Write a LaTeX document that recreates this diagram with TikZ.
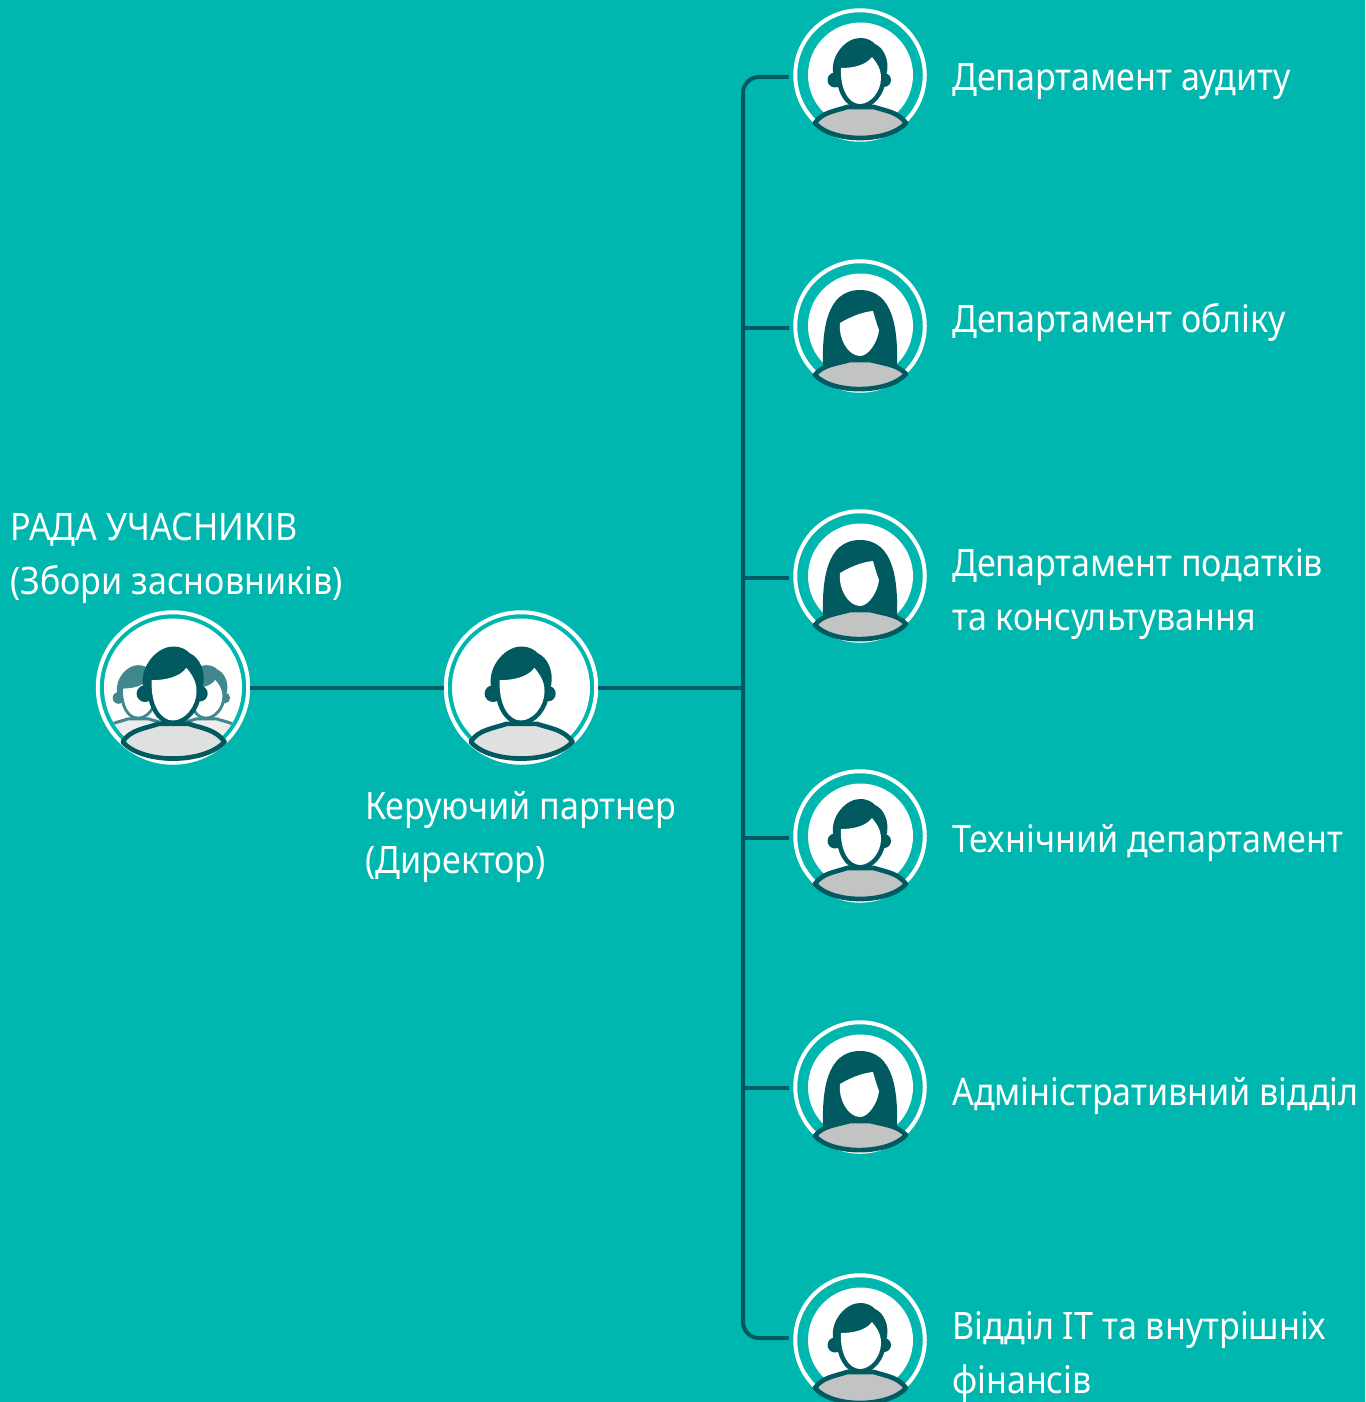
\documentclass[tikz,border=0pt]{standalone}
\usepackage{fontspec}
\setmainfont[FakeStretch=0.9]{Noto Sans}
\definecolor{bgteal}{HTML}{00B7AF}
\definecolor{darkteal}{HTML}{005A60}
\definecolor{midteal}{HTML}{41888E}
\definecolor{bodygrey}{HTML}{C2C4C4}
\definecolor{bodylight}{HTML}{DFE0E0}
\definecolor{bodypale}{HTML}{ECEDED}
\newcommand{\bodyfill}{bodygrey}
\newcommand{\headline}{darkteal}
\newcommand{\outlinew}{3.5pt}
\tikzset{
    link/.style={draw=darkteal,line width=3pt},
    ringbig/.style={circle,draw=white,line width=3pt,minimum size=150.5*0.75pt,inner sep=0pt,outer sep=1pt},
    ringsmall/.style={circle,draw=white,line width=3pt,minimum size=129.5*0.75pt,inner sep=0pt,outer sep=5pt},
    label/.style={anchor=west,align=left,text=white,font=\fontsize{28.4pt}{40.5pt}\selectfont,inner sep=0pt},
    man/.pic={
        % ears and hair
        \fill[\headline] (-25,5) circle (7.5) (24,5) circle (7);
        \fill[\headline] (-24,4) -- (-27,-3) .. controls (-29,-20) and (-14,-37) .. (0,-37)
            .. controls (8,-37) and (12,-34) .. (15,-31)
            .. controls (24,-27) and (29,-15) .. (27,-3) -- (24,4) -- cycle;
        % body
        \draw[fill=\bodyfill,draw=\headline,line width=\outlinew,line join=round]
            (-45,48) .. controls (-38,37) and (-24,36) .. (-13,32)
            -- (14,32) .. controls (26,36) and (38,37) .. (46,48)
            .. controls (28,68) and (-28,68) .. (-45,48) -- cycle;
        % face
        \path[fill=white,preaction={draw=\headline,line width=2*\outlinew}]
            (-19,-7) .. controls (-6,-7) and (6,-10) .. (12,-18)
            .. controls (16,-13) and (21,-7) .. (21,3)
            .. controls (21,17) and (10,29) .. (0,29)
            .. controls (-11,29) and (-20,15) .. (-19,-7) -- cycle;
    },
    woman/.pic={
        % long hair
        \fill[\headline] (-37,40) .. controls (-38,5) and (-34,-36) .. (0,-36)
            .. controls (34,-36) and (38,5) .. (37,40) -- cycle;
        % body
        \draw[fill=\bodyfill,draw=\headline,line width=\outlinew,line join=round]
            (-45,49) .. controls (-38,39) and (-24,38) .. (-10,34)
            -- (10,34) .. controls (26,38) and (38,39) .. (46,48)
            .. controls (28,68) and (-28,68) .. (-45,49) -- cycle;
        % face
        \fill[white] (-20,-3) .. controls (-10,-9) and (2,-14) .. (13,-15)
            .. controls (15,-8) and (17,-1) .. (19,4)
            .. controls (18,15) and (9,30) .. (0,30)
            .. controls (-12,30) and (-22,12) .. (-20,-3) -- cycle;
    },
}
\begin{document}
\begin{tikzpicture}[x=0.75pt,y=-0.75pt]
\useasboundingbox (0,0) rectangle (1365,1402);
\clip (0,0) rectangle (1365,1402);
\fill[bgteal] (0,0) rectangle (1365,1402);
% board and director
\node[ringbig] (board) at (173,687.5) {};
\node[ringbig] (partner) at (521,687.5) {};
\coordinate (hub) at (743,687.5);
% departments
\node[ringsmall] (audit) at (860,75) {};
\node[ringsmall] (account) at (860,326) {};
\node[ringsmall] (tax) at (860,576) {};
\node[ringsmall] (tech) at (860,836) {};
\node[ringsmall] (admin) at (860,1087) {};
\node[ringsmall] (infin) at (860,1340) {};
% links
\draw[link] (board.east) -- (partner.west);
\draw[link] (partner.east) -- (hub);
\draw[link,rounded corners=12pt] ([yshift=-1.5pt]audit.west) -| (hub);
\draw[link,rounded corners=12pt] ([yshift=1.5pt]infin.west) -| (hub);
\draw[link] ([yshift=-1.5pt]account.west) -| (hub);
\draw[link] ([yshift=-1.5pt]tax.west) -| (hub);
\draw[link] ([yshift=-1.5pt]tech.west) -| (hub);
\draw[link] ([yshift=-0.75pt]admin.west) -| (hub);
% discs
\fill[white] (173,687.5) circle (69);
\fill[white] (521,687.5) circle (69);
\foreach \rowy in {75,326,576,836,1087,1340}
    \fill[white] (860.5,\rowy) circle (52.5);
% group icon
\begin{scope}
    \clip (173,687.5) circle (69);
    \renewcommand{\bodyfill}{bodypale}
    \renewcommand{\headline}{midteal}
    \renewcommand{\outlinew}{2.25pt}
    \pic[scale=0.78] at (138,694) {man};
    \pic[scale=0.78] at (206,694) {man};
\end{scope}
\renewcommand{\bodyfill}{bodylight}
\pic[scale=1.12] at (173,688) {man};
\pic[scale=1.12] at (521,688) {man};
% department icons
\renewcommand{\bodyfill}{bodygrey}
\pic at (860,75) {man};
\pic at (860,326) {woman};
\pic at (860,576) {woman};
\pic at (860,836) {man};
\pic at (860,1087) {woman};
\pic at (860,1340) {man};
% labels
\node[label] (boardtext) at (10,558) {РАДА УЧАСНИКІВ\\(Збори засновників)};
\node[label] (partnertext) at (365,837) {Керуючий партнер\\(Директор)};
\node[label] (audittext) at (952,82) {Департамент аудиту};
\node[label] (accounttext) at (952,322) {Департамент обліку};
\node[label] (taxtext) at (952,594) {Департамент податків\\та консультування};
\node[label] (techtext) at (952,843) {Технічний департамент};
\node[label] (admintext) at (952,1096) {Адміністративний відділ};
\node[label] (infintext) at (952,1357) {Відділ IT та внутрішніх\\фінансів};
\end{tikzpicture}
\end{document}
